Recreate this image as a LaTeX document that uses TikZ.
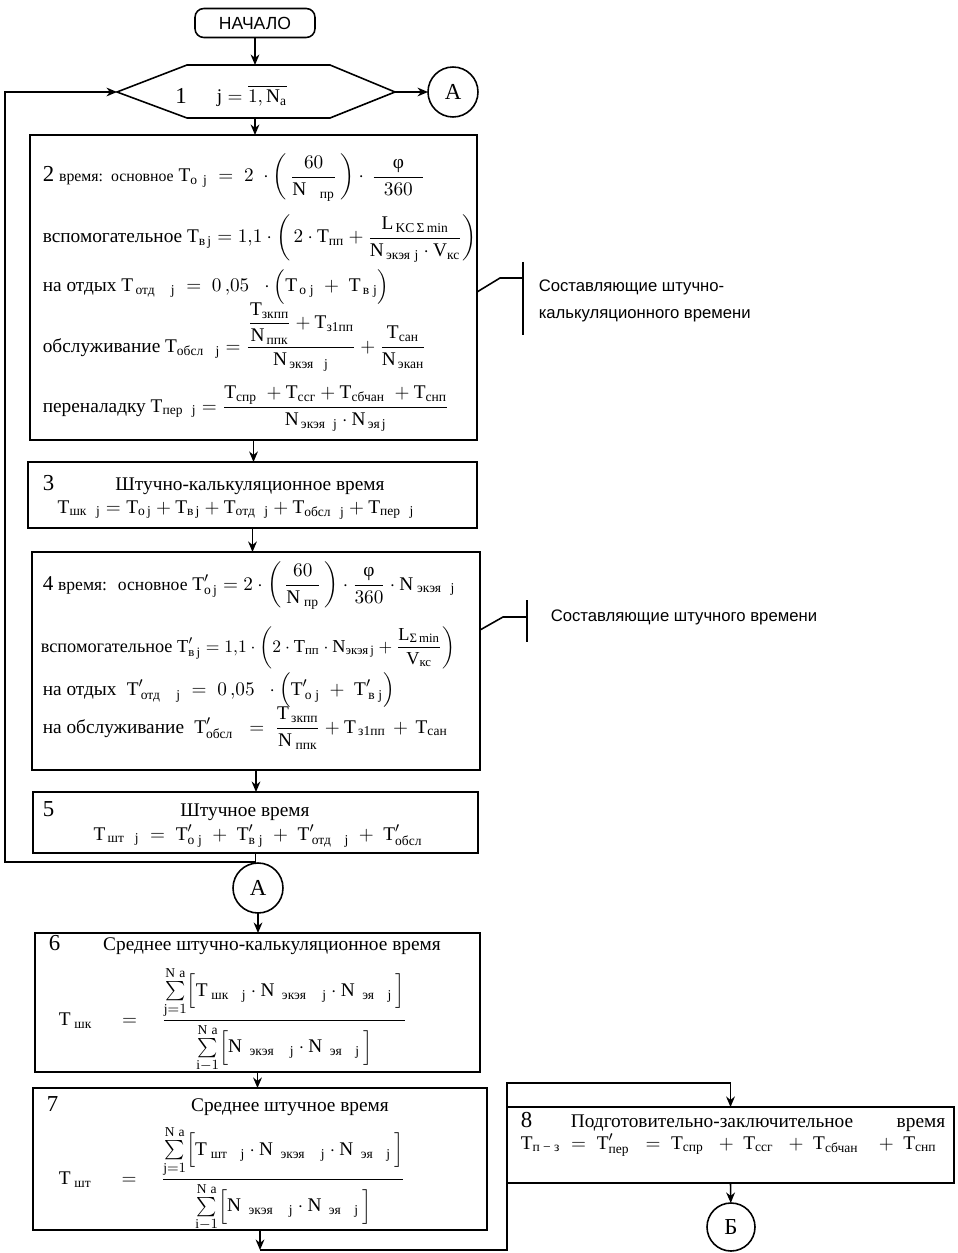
\documentclass[tikz,border=0pt]{standalone}
\usepackage{amsmath}
\usepackage{fontspec}
\setmainfont{Liberation Serif}
\newfontfamily\sansf{Liberation Sans}
\usetikzlibrary{arrows.meta,calc}
\newcommand{\tx}[1]{\text{#1}}
\newcommand{\TT}{\text{T}}
\newcommand{\NN}{\text{N}}
\newcommand{\Vv}{\text{V}}
\newcommand{\Ll}{\text{L}}
\newcommand{\sumN}[1]{\sum\limits_{#1}^{\NN\;\tx{a}}}
\begin{document}
\begin{tikzpicture}[x=0.02cm,y=-0.02cm,line width=0.9pt,
  >={Stealth[length=6pt,width=5pt]},
  box/.style={draw,inner sep=0pt,outer sep=0pt},
  term/.style={draw,rounded corners=5pt,inner sep=0pt,outer sep=0pt,minimum width=2.4cm,minimum height=0.58cm,font=\sansf\fontsize{10}{12}\selectfont},
  conn/.style={draw,circle,inner sep=0pt,outer sep=0pt,minimum size=1cm,font=\fontsize{13}{15}\selectfont},
  txt/.style={inner sep=0pt,font=\fontsize{11}{13}\selectfont},
  num/.style={inner sep=0pt,font=\fontsize{13}{15}\selectfont},
  lab/.style={inner sep=0pt,align=left,font=\sansf\fontsize{9.5}{12.5}\selectfont}]
\useasboundingbox (0,0) rectangle (957,1253);

% start
\node[term] (start) at (255,23) {НАЧАЛО};

% hexagon (block 1)
\coordinate (hl) at (117,92);
\coordinate (htl) at (187,65);
\coordinate (htr) at (330,65);
\coordinate (hr) at (395,92);
\coordinate (hbr) at (330,118);
\coordinate (hbl) at (187,118);
\coordinate (ht) at (255,65);
\coordinate (hb) at (255,118);
\draw (hl) -- (htl) -- (htr) -- (hr) -- (hbr) -- (hbl) -- cycle;
\node[num] (n1) at (181,96) {1};
\node[txt] (h1) at (252,96) {$\tx{j} = \overline{1,\NN_{\tx{a}}}$};

\node[conn] (A1) at (453,92) {A};

% boxes
\node[box,minimum width=8.94cm,minimum height=6.10cm] (b2) at (253.5,287.5) {};
\node[box,minimum width=8.98cm,minimum height=1.32cm] (b3) at (252.5,495) {};
\node[box,minimum width=8.96cm,minimum height=4.36cm] (b4) at (256,661) {};
\node[box,minimum width=8.90cm,minimum height=1.22cm] (b5) at (255.5,822.5) {};
\node[conn] (A2) at (258,888) {A};
\node[box,minimum width=8.90cm,minimum height=2.78cm] (b6) at (257.5,1002.5) {};
\node[box,minimum width=9.08cm,minimum height=2.84cm] (b7) at (260,1159) {};
\node[box,minimum width=8.94cm,minimum height=1.52cm] (b8) at (730.5,1145) {};
\node[conn,minimum size=0.96cm] (B) at (731,1227) {Б};

% box 2 content
\node[txt,anchor=base west] (l21) at (42,182) {{\fontsize{13}{15}\selectfont 2} {\fontsize{9}{11}\selectfont время:\, основное} $\TT_{\tx{o\;\,j}} \;=\; 2\;\cdot\left(\,\dfrac{\;60\;}{\NN_{\tx{\quad пр}}}\,\right)\cdot\,\dfrac{\quad\tx{φ}\quad}{360}$};
\node[txt,anchor=base west] (l22) at (42,243) {вспомогательное $\TT_{\tx{в\,j}} = 1{,}1\cdot\left(\,2\cdot\TT_{\tx{пп}} + \dfrac{\Ll_{\tx{\,KC\,Σ\,min}}}{\NN_{\tx{\,экэя\,\,j}}\cdot\Vv_{\tx{кс}}}\right)$};
\node[txt,anchor=base west] (l23) at (42,292) {на отдых $\TT_{\tx{\,отд\hspace{1.2em}j}} \;=\; 0\,{,}05\;\;\cdot\Bigl(\TT_{\tx{\,o\;j}} \;+\; \TT_{\tx{\,в\;j}}\Bigr)$};
\node[txt,anchor=base west] (l24) at (42,352) {обслуживание $\TT_{\tx{обсл\hspace{0.9em}j}} = \dfrac{\dfrac{\TT_{\tx{зкпп}}}{\NN_{\tx{\,ппк}}}+\TT_{\tx{з1пп}}}{\NN_{\tx{\,экэя\hspace{0.8em}j}}} + \dfrac{\TT_{\tx{сан}}}{\NN_{\tx{\,экан}}}$};
\node[txt,anchor=base west] (l25) at (42,412) {переналадку $\TT_{\tx{пер\hspace{0.7em}j}} = \dfrac{\TT_{\tx{спр}}\; + \TT_{\tx{ссг}} + \TT_{\tx{сбчан}}\; + \TT_{\tx{снп}}}{\NN_{\tx{\,экэя\hspace{0.6em}j}}\cdot\NN_{\tx{\,эя\,j}}}$};

% box 3 content
\node[num,anchor=base west] (n3) at (42,490) {3};
\node[txt,anchor=base] (t3) at (250,490) {Штучно-калькуляционное время};
\node[txt,anchor=base] (f3) at (236,513) {$\TT_{\tx{шк\hspace{0.7em}j}} = \TT_{\tx{o\,j}} + \TT_{\tx{в\,j}} + \TT_{\tx{отд\hspace{0.7em}j}} + \TT_{\tx{обсл\hspace{0.7em}j}} + \TT_{\tx{пер\hspace{0.7em}j}}$};

% box 4 content
\node[txt,anchor=base west] (l41) at (42,590) {{\fontsize{12}{14}\selectfont 4} {\fontsize{10}{12}\selectfont время:\; основное} $\TT'_{\tx{o\,j}} = 2\cdot\left(\,\dfrac{\;60\;}{\NN_{\tx{\;пр}}}\,\right)\cdot\dfrac{\tx{φ}}{360}\cdot\NN_{\tx{\;экэя\hspace{0.7em}j}}$};
\node[txt,anchor=base west,font=\fontsize{10.4}{12}\selectfont] (l42) at (40,652) {вспомогательное $\TT'_{\tx{в\,j}} = 1{,}1\cdot\left(2\cdot\TT_{\tx{пп}}\cdot\NN_{\tx{экэя\,j}} + \dfrac{\Ll_{\tx{Σ\,min}}}{\Vv_{\tx{кс}}}\right)$};
\node[txt,anchor=base west] (l43) at (42,695) {на отдых\; $\TT'_{\tx{\,отд\hspace{1.2em}j}} \;=\; 0\,{,}05\;\;\cdot\Bigl(\TT'_{\tx{\,o\;j}} \;+\; \TT'_{\tx{\,в\;j}}\Bigr)$};
\node[txt,anchor=base west] (l44) at (42,733) {на обслуживание\; $\TT'_{\tx{обсл}} \;\;=\; \dfrac{\TT_{\tx{\,зкпп}}}{\NN_{\tx{\;ппк}}} + \TT_{\tx{\,з1пп}} \,+\, \TT_{\tx{сан}}$};

% box 5 content
\node[num,anchor=base west] (n5) at (42,816) {5};
\node[txt,anchor=base] (t5) at (245,816) {Штучное время};
\node[txt,anchor=base] (f5) at (258,840) {$\TT_{\tx{\,шт\hspace{0.8em}j}} \;=\; \TT'_{\tx{o\;j}} \;+\; \TT'_{\tx{в\;j}} \;+\; \TT'_{\tx{\,отд\hspace{1em}j}} \;+\; \TT'_{\tx{обсл}}$};

% box 6 content
\node[num,anchor=base west] (n6) at (48,950) {6};
\node[txt,anchor=base] (t6) at (272,950) {Среднее штучно-калькуляционное время};
\node[txt,anchor=west] (f6) at (58,1020) {$\TT_{\tx{\;шк}}\quad\;=\quad\dfrac{\sumN{\tx{j}=1}\Bigl[\TT_{\tx{\;шк\hspace{1em}j}}\cdot\NN_{\tx{\;\;экэя\hspace{1.2em}j}}\cdot\NN_{\tx{\;\;эя\hspace{1em}j}}\,\Bigr]}{\sumN{\tx{i}-1}\Bigl[\NN_{\tx{\;\;экэя\hspace{1.2em}j}}\cdot\NN_{\tx{\;\;эя\hspace{1em}j}}\,\Bigr]}$};

% box 7 content
\node[num,anchor=base west] (n7) at (46,1111) {7};
\node[txt,anchor=base] (t7) at (290,1111) {Среднее штучное время};
\node[txt,anchor=west] (f7) at (58,1179) {$\TT_{\tx{\;шт}}\quad\;=\quad\dfrac{\sumN{\tx{j}=1}\Bigl[\TT_{\tx{\;шт\hspace{1em}j}}\cdot\NN_{\tx{\;\;экэя\hspace{1.2em}j}}\cdot\NN_{\tx{\;\;эя\hspace{1em}j}}\,\Bigr]}{\sumN{\tx{i}-1}\Bigl[\NN_{\tx{\;\;экэя\hspace{1.2em}j}}\cdot\NN_{\tx{\;\;эя\hspace{1em}j}}\,\Bigr]}$};

% box 8 content
\node[num,anchor=base west] (n8) at (520,1127) {8};
\node[txt,anchor=base] (t8) at (712,1127) {Подготовительно-заключительное};
\node[txt,anchor=base east] (v8) at (946,1127) {время};
\node[txt,anchor=base west] (f8) at (520,1149) {$\TT_{\tx{п − з}} \;=\; \TT'_{\tx{пер}} \;\;=\; \TT_{\tx{спр}} \;\;+\; \TT_{\tx{ссг}} \;\;+\; \TT_{\tx{сбчан}} \;\;\;+\; \TT_{\tx{снп}}$};

% side labels
\coordinate (s1a) at (477,292);
\coordinate (k1) at (500,278);
\coordinate (bar1t) at (523,262);
\coordinate (bar1b) at (523,335);
\draw (s1a) -- (k1) -- (k1 -| bar1t);
\draw (bar1t) -- (bar1b);
\node[lab,anchor=west] (lab1) at (538,301) {Составляющие штучно-\\[3pt]калькуляционного времени};

\coordinate (s2a) at (480,630);
\coordinate (k2) at (503,617);
\coordinate (bar2t) at (527,600);
\coordinate (bar2b) at (527,642);
\draw (s2a) -- (k2) -- (k2 -| bar2t);
\draw (bar2t) -- (bar2b);
\node[lab,anchor=west] (lab2) at (550,617) {Составляющие штучного времени};

% connectors
\draw[->] (start) -- (ht);
\draw[->] (hr) -- (A1);
\draw[->] (hb) -- (hb |- b2.north);
\draw[->] (b2.south) -- (b2.south |- b3.north);
\draw[->] (b3.south) -- (b3.south |- b4.north);
\draw[->] (b4.south) -- (b4.south |- b5.north);
\coordinate (lx) at (5,862);
\draw[->] (b5.south) |- (lx) |- (hl);
\draw[->] (A2) -- (A2 |- b6.north);
\draw[->] (b6.south) -- (b6.south |- b7.north);
\coordinate (e1) at (260,1250);
\coordinate (c1) at (507,1250);
\coordinate (c2) at (507,1083);
\draw[->] (b7.south) -- (e1);
\draw[->] (e1) -- (c1) -- (c2) -| (b8.north);
\draw[->] (b8.south) -- (B);
\end{tikzpicture}
\end{document}
